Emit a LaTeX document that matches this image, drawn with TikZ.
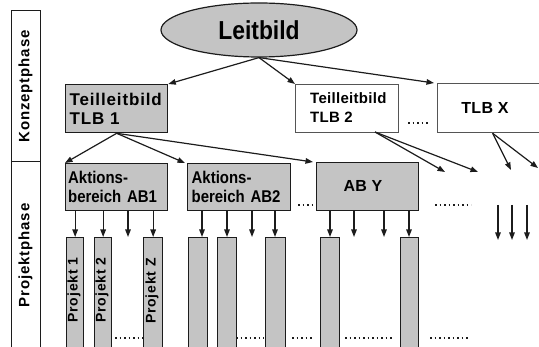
\documentclass[tikz,border=0pt]{standalone}
\usepackage{fontspec}
\setmainfont{Liberation Sans}
\newfontfamily\lsA[LetterSpace=5]{Liberation Sans}
\newfontfamily\lsB[LetterSpace=6]{Liberation Sans}
\newfontfamily\lsC[LetterSpace=2]{Liberation Sans}
\newfontfamily\cond[FakeStretch=0.88]{Liberation Sans}
\usetikzlibrary{arrows.meta,shapes.geometric}
\definecolor{fillg}{RGB}{196,196,196}
\definecolor{ink}{RGB}{28,28,28}
\begin{document}
\begin{tikzpicture}[x=1pt,y=-1pt,
  box/.style={draw=ink,line width=1.3pt,fill=fillg,inner sep=0pt,anchor=north west},
  wbox/.style={box,fill=white,draw=ink!75},
  bar/.style={box,minimum width=#1},
  phase/.style={draw=ink,line width=1pt,rotate=90,inner sep=0pt,minimum height=29pt,
    font=\fontsize{15}{15}\lsB\bfseries},
  proj/.style={rotate=90,inner sep=0pt,font=\fontsize{14}{14}\lsB\bfseries},
  arr/.style={draw=ink,line width=1.2pt,-{Triangle[length=7.5pt,width=5.5pt]}},
  dotrow/.style={draw=ink,line width=1.7pt,dash pattern=on 1.7pt off 2.8pt}]
\useasboundingbox (0,0) rectangle (539,347);
\clip (0,0) rectangle (539,347);

% phase column
\node[phase,minimum width=151pt] (kp) at (25.5,86.5) {Konzeptphase};
\node[phase,minimum width=187pt] (pp) at (25.5,255.5) {Projektphase};

% Leitbild
\node[ellipse,draw=ink,line width=1.2pt,fill=fillg,minimum width=196pt,minimum height=54pt,inner sep=0pt]
  (leit) at (259,30) {\fontsize{26}{26}\cond\bfseries Leitbild};

% Teilleitbilder
\node[box,minimum width=102pt,minimum height=48pt,text width=94pt,inner xsep=4pt,align=left,
  font=\fontsize{17}{19}\lsA\bfseries] (tlb1) at (65,84) {Teilleitbild\\TLB 1};
\node[wbox,minimum width=103pt,minimum height=48pt] (tlb2) at (295,84) {};
\node[anchor=west,inner sep=0pt,align=left,font=\fontsize{15}{19}\lsC\bfseries] (tlb2t) at (310,108) {Teilleitbild\\TLB 2};
\node[wbox,minimum width=110pt,minimum height=49pt] (tlbx) at (437,83) {};
\node[inner sep=0pt,font=\fontsize{16}{16}\lsC\bfseries] (tlbxt) at (485,108) {TLB X};

% Aktionsbereiche
\node[box,minimum width=102pt,minimum height=47pt,text width=97pt,inner xsep=2.5pt,align=left,
  font=\fontsize{17}{19}\cond\bfseries] (ab1) at (65,163) {Aktions-\\bereich AB1};
\node[box,minimum width=103pt,minimum height=47pt,text width=95pt,inner xsep=4pt,align=left,
  font=\fontsize{17}{19}\cond\bfseries] (ab2) at (187,163) {Aktions-\\bereich AB2};
\node[box,minimum width=102pt,minimum height=48pt] (aby) at (316,162) {};
\node[inner sep=0pt,font=\fontsize{16}{16}\lsC\bfseries] (abyt) at (363,186) {AB Y};

% Projekt bars
\node[bar=17pt,minimum height=116pt] (p1) at (66,237) {};
\node[bar=17pt,minimum height=116pt] (p2) at (94,237) {};
\node[bar=19pt,minimum height=116pt] (pz) at (143,237) {};
\node[bar=19pt,minimum height=116pt] (b21) at (188,237) {};
\node[bar=19pt,minimum height=116pt] (b22) at (217,237) {};
\node[bar=20pt,minimum height=116pt] (b23) at (265,237) {};
\node[bar=19pt,minimum height=116pt] (by1) at (320,237) {};
\node[bar=18pt,minimum height=116pt] (by2) at (400,237) {};
\node[proj] (p1t) at (74,290) {Projekt 1};
\node[proj] (p2t) at (102,290) {Projekt 2};
\node[proj] (pzt) at (152,291) {Projekt Z};

% arrows Leitbild -> TLB
\draw[arr] (leit.south) -- (tlb1.north east);
\draw[arr] (leit.south) -- (tlb2.north west);
\draw[arr] (leit.south) -- ([xshift=-3pt]tlbx.north west);

% arrows TLB1 -> AB
\draw[arr] (tlb1.south) -- (ab1.north west);
\draw[arr] (tlb1.south) -- ([xshift=-2pt]ab2.north west);
\draw[arr] (tlb1.south) -- ([xshift=-3pt]aby.north west);

% arrows TLB2 / TLB X -> further
\coordinate (t2s) at (375,132);
\coordinate (e1) at (445,172);
\coordinate (e2) at (478,172);
\coordinate (e3) at (511,170);
\coordinate (e4) at (538,168);
\draw[arr] (t2s) -- (e1);
\draw[arr] (t2s) -- (e2);
\draw[arr] (tlbx.south) -- (e3);
\draw[arr] (tlbx.south) -- (e4);

% arrows AB -> projects
\draw[arr] (ab1.south -| p1.north) -- (p1.north);
\draw[arr] (ab1.south -| p2.north) -- (p2.north);
\draw[arr] (ab1.south -| 128,0) -- (p2.north -| 128,0);
\draw[arr] (ab1.south -| pz.north) -- (pz.north);
\draw[arr] (ab2.south -| 202,0) -- (b21.north -| 202,0);
\draw[arr] (ab2.south -| 227,0) -- (b22.north -| 227,0);
\draw[arr] (ab2.south -| 252,0) -- (b22.north -| 252,0);
\draw[arr] (ab2.south -| 275,0) -- (b23.north -| 275,0);
\draw[arr] (aby.south -| 330,0) -- (by1.north -| 330,0);
\draw[arr] (aby.south -| 354,0) -- (by1.north -| 354,0);
\draw[arr] (aby.south -| 384,0) -- (by1.north -| 384,0);
\draw[arr] (aby.south -| 409,0) -- (by2.north -| 409,0);

% right side down arrows
\coordinate (d1a) at (498,205); \coordinate (d1b) at (498,240);
\coordinate (d2a) at (512,205); \coordinate (d2b) at (512,240);
\coordinate (d3a) at (527,205); \coordinate (d3b) at (527,240);
\draw[arr] (d1a) -- (d1b);
\draw[arr] (d2a) -- (d2b);
\draw[arr] (d3a) -- (d3b);

% dotted continuations
\draw[dotrow] (408,123) -- (429,123);
\draw[dotrow] (298,205) -- (314,205);
\draw[dotrow] (435,205) -- (471,205);
\draw[dotrow] (115,338) -- (143,338);
\draw[dotrow] (236,338) -- (264,338);
\draw[dotrow] (292,338) -- (314,338);
\draw[dotrow] (345,338) -- (393,338);
\draw[dotrow] (430,338) -- (469,338);
\end{tikzpicture}
\end{document}
